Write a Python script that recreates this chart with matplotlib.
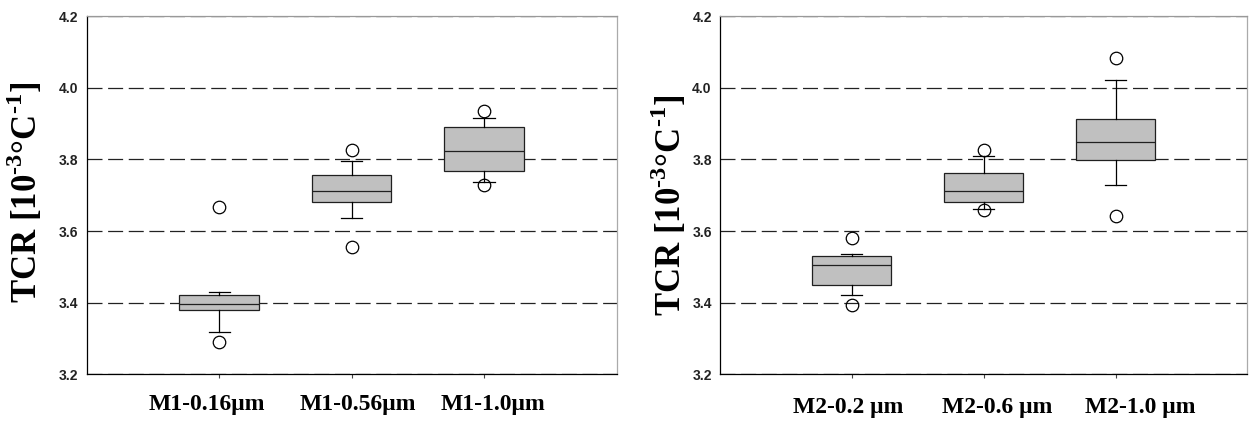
import matplotlib
matplotlib.use('Agg')
import matplotlib.pyplot as plt

# data (TCR, 10^-3 / degC)
m1_labels = ['M1-0.16μm', 'M1-0.56μm', 'M1-1.0μm']
m1_q1 = [3.380, 3.681, 3.768]
m1_med = [3.396, 3.711, 3.822]
m1_q3 = [3.421, 3.755, 3.890]
m1_lo = [3.319, 3.636, 3.738]
m1_hi = [3.430, 3.796, 3.916]
m1_fliers = [[3.666, 3.291], [3.827, 3.555], [3.935, 3.729]]

m2_labels = ['M2-0.2 μm', 'M2-0.6 μm', 'M2-1.0 μm']
m2_q1 = [3.450, 3.682, 3.797]
m2_med = [3.504, 3.711, 3.848]
m2_q3 = [3.530, 3.761, 3.914]
m2_lo = [3.422, 3.662, 3.729]
m2_hi = [3.537, 3.809, 4.021]
m2_fliers = [[3.581, 3.394], [3.825, 3.660], [4.082, 3.641]]

yticks = [3.2, 3.4, 3.6, 3.8, 4.0, 4.2]

plt.rcParams['mathtext.fontset'] = 'custom'
plt.rcParams['mathtext.rm'] = 'Liberation Serif:bold'
plt.rcParams['mathtext.bf'] = 'Liberation Serif:bold'

ylab = 'TCR [10$^{\\mathbf{\\text{-}3}}$°C$^{\\mathbf{\\text{-}1}}$]'


def make_stats(labels, q1, med, q3, lo, hi, fliers):
    stats = []
    for i in range(len(labels)):
        stats.append({'label': labels[i], 'q1': q1[i], 'med': med[i], 'q3': q3[i],
                      'whislo': lo[i], 'whishi': hi[i], 'fliers': fliers[i]})
    return stats


def draw(ax, stats, lab_x, lab_y, shifts, base_y):
    pos = [1, 2, 3]
    ax.bxp(stats, positions=pos, widths=0.6, capwidths=0.16,
           patch_artist=True, showfliers=True,
           boxprops=dict(facecolor='#c0c0c0', edgecolor='#202020', linewidth=0.9),
           medianprops=dict(color='#202020', linewidth=0.9),
           whiskerprops=dict(color='black', linewidth=0.9),
           capprops=dict(color='black', linewidth=0.9),
           flierprops=dict(marker='o', markerfacecolor='none', markeredgecolor='black',
                           markersize=9, markeredgewidth=0.9))
    ax.set_xlim(0, 4)
    ax.set_ylim(3.2, 4.2)
    ax.set_yticks(yticks)
    ax.set_yticklabels(['%.1f' % t for t in yticks], fontfamily='Liberation Sans',
                       fontweight='bold', fontsize=10, color='#222222')
    ax.set_xticks(pos)
    ax.set_xticklabels([])
    # category names sit a little off their ticks in the original, so draw them by hand
    for p, s, dx in zip(pos, stats, shifts):
        ax.text(p + dx, base_y, s['label'], transform=ax.get_xaxis_transform(),
                ha='center', va='baseline', fontfamily='Liberation Serif',
                fontweight='bold', fontsize=17)
    ax.tick_params(axis='y', length=0, pad=6)
    ax.tick_params(axis='x', length=3, width=0.8, color='#444444')
    ax.set_axisbelow(True)
    ax.yaxis.grid(True, color='#222222', linewidth=0.9, linestyle=(0, (12, 4.5)))
    ax.spines['left'].set_color('black')
    ax.spines['bottom'].set_color('black')
    ax.spines['top'].set_color('#999999')
    ax.spines['right'].set_color('#aaaaaa')
    for s in ax.spines.values():
        s.set_linewidth(0.9)
    ax.set_ylabel(ylab, fontfamily='Liberation Serif', fontweight='bold', fontsize=25)
    ax.yaxis.set_label_coords(lab_x, lab_y)


fig = plt.figure(figsize=(12.49, 4.21), dpi=100)
ax1 = fig.add_axes([0.0694, 0.1109, 0.4242, 0.851])
ax2 = fig.add_axes([0.5765, 0.1109, 0.4222, 0.851])

draw(ax1, make_stats(m1_labels, m1_q1, m1_med, m1_q3, m1_lo, m1_hi, m1_fliers),
     -0.078, 0.509, [-0.09, 0.05, 0.07], -0.0996)
draw(ax2, make_stats(m2_labels, m2_q1, m2_med, m2_q3, m2_lo, m2_hi, m2_fliers),
     -0.058, 0.4725, [-0.03, 0.105, 0.19], -0.107)

fig.savefig('out.png', dpi=100)
